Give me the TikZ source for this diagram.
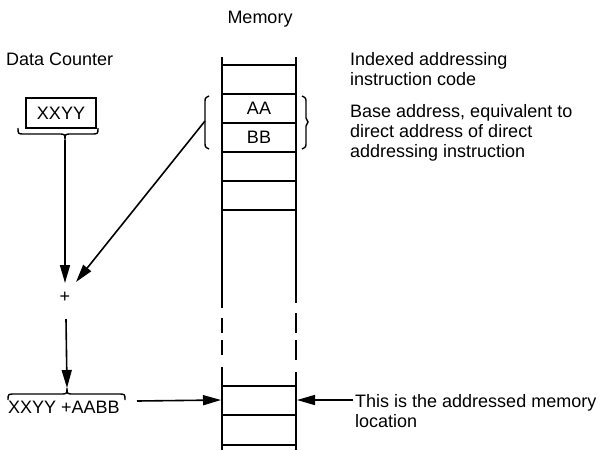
\documentclass[tikz,border=0pt]{standalone}
\usepackage{fontspec}
\setmainfont{Liberation Sans}
\usetikzlibrary{arrows.meta}
\begin{document}
\begin{tikzpicture}[x=1pt,y=-1pt,
  lbl/.style={inner sep=0pt,font=\fontsize{18}{20}\selectfont,align=left},
  wall/.style={line width=2pt},
  cellline/.style={line width=1.5pt},
  thin/.style={line width=1.4pt},
  arr/.style={line width=1.6pt,-{Triangle[length=18pt,width=10pt]}},
]
\useasboundingbox (0,0) rectangle (604,450);

% ---- labels
\node[lbl,anchor=base] (memlbl) at (260,23) {Memory};
\node[lbl,anchor=base west] (dclbl) at (6,65) {Data Counter};
\node[lbl,anchor=north west] (idx) at (350,52) {Indexed addressing\\instruction code};
\node[lbl,anchor=north west] (base) at (350,104) {Base address, equivalent to\\direct address of direct\\addressing instruction};
\node[lbl,anchor=north west] (addr) at (355,394) {This is the addressed memory\\location};

% ---- data counter
\node[lbl,draw,thin,minimum width=70pt,minimum height=30pt,anchor=center] (xxyy) at (61,113) {XXYY};
\coordinate (bt1) at (65,140);
\draw[thin] (18,128) .. controls (18,134) .. (25,134) -- (58,134)
  .. controls (65,134) .. (bt1) .. controls (65,134) .. (72,134) -- (91,134)
  .. controls (98,134) .. (98,128);
\node[lbl,anchor=center] (plus) at (65,297) {+};
\coordinate (pl2) at (66,319);
\node[lbl,anchor=base west] (sum) at (8,413) {XXYY +AABB};
\coordinate (bt2) at (67,388);
\draw[thin] (8,400) .. controls (8,394) .. (15,394) -- (60,394)
  .. controls (67,394) .. (bt2) .. controls (67,394) .. (74,394) -- (118,394)
  .. controls (125,394) .. (125,400);

% ---- memory column
\draw[wall] (222,57) -- (222,308);
\draw[wall] (222,318) -- (222,333) (222,340) -- (222,355);
\draw[wall] (222,367) -- (222,450);
\draw[wall] (296,57) -- (296,303);
\draw[wall] (296,313) -- (296,333) (296,340) -- (296,360);
\draw[wall] (296,372) -- (296,450);
\foreach \yy in {65,94,123,152,181,210,386,415,445}
  \draw[cellline] (222,\yy) -- (296,\yy);
\node[lbl,anchor=center] (aa) at (259,108.5) {AA};
\node[lbl,anchor=center] (bb) at (259,137.5) {BB};

% brackets
\draw[thin] (209,96) .. controls (205,98) .. (205,103) -- (205,142) .. controls (205,147) .. (209,149);
\draw[thin] (302,96) .. controls (306,98) .. (306,103) -- (306,118) -- (308,122) -- (306,126) -- (306,142) .. controls (306,147) .. (302,149);
\coordinate (brk) at (205,121);

% ---- connectors
\coordinate (plin) at (65,283);
\coordinate (plin2) at (76,282);
\draw[arr] (bt1) -- (plin);
\draw[arr] (brk) -- (plin2);
\draw[arr] (pl2) -- (bt2);
\coordinate (memL) at (221,400);
\coordinate (memR) at (297,400);
\coordinate (sumR) at (137,401);
\coordinate (addrL) at (353,400);
\draw[arr] (sumR) -- (memL);
\draw[arr] (addrL) -- (memR);
\end{tikzpicture}
\end{document}
